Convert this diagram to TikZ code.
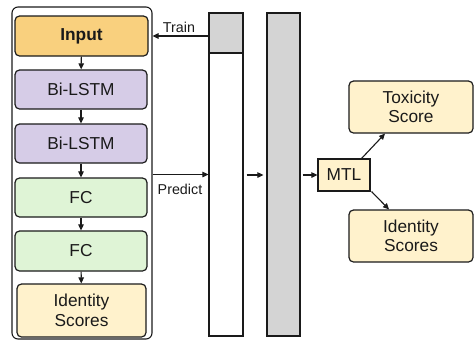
\documentclass[tikz,border=0pt]{standalone}
\usepackage{fontspec}
\setmainfont{Liberation Sans}
\usetikzlibrary{arrows.meta}
\definecolor{inpfill}{HTML}{F9D07E}
\definecolor{lstmfill}{HTML}{D6CCE7}
\definecolor{fcfill}{HTML}{DFF4D6}
\definecolor{scorefill}{HTML}{FFF2CC}
\definecolor{grayfill}{HTML}{D4D4D4}
\definecolor{ink}{HTML}{1A1A1A}
\tikzset{
  blk/.style={draw=ink, line width=1.2pt, rounded corners=4.5pt, inner sep=0pt,
    align=center, text=ink, font=\fontsize{17.3}{19.5}\selectfont},
  colbox/.style={draw=ink, line width=1.2pt, inner sep=0pt},
  arr/.style={draw=ink, line width=1.1pt, -{Triangle[length=6pt,width=5.5pt]}},
  lbl/.style={text=ink, font=\fontsize{14.3}{16}\selectfont, inner sep=0pt},
}
\begin{document}
\begin{tikzpicture}[x=1pt,y=-1pt]
\useasboundingbox (0,0) rectangle (474,341);
% left container
\node[draw=ink, line width=1.1pt, rounded corners=6pt, minimum width=140pt, minimum height=332pt, inner sep=0pt] (cont) at (82,173) {};
\node[blk, fill=inpfill, minimum width=133pt, minimum height=40pt, font=\fontsize{17.3}{19.5}\selectfont\bfseries] (inp) at (81.5,36) {Input};
\node[blk, fill=lstmfill, minimum width=132pt, minimum height=39pt] (bi1) at (81,89.5) {Bi-LSTM};
\node[blk, fill=lstmfill, minimum width=132pt, minimum height=39pt] (bi2) at (81,143.5) {Bi-LSTM};
\node[blk, fill=fcfill, minimum width=132pt, minimum height=39pt] (fc1) at (81,197.5) {FC};
\node[blk, fill=fcfill, minimum width=132pt, minimum height=40pt] (fc2) at (81,251) {FC};
\node[blk, fill=scorefill, minimum width=129pt, minimum height=53pt] (idl) at (81.5,310.5) {Identity\\Scores};
\draw[arr] (inp) -- (bi1);
\draw[arr] (bi1) -- (bi2);
\draw[arr] (bi2) -- (fc1);
\draw[arr] (fc1) -- (fc2);
\draw[arr] (fc2) -- (idl);
% columns
\node[colbox, fill=white, minimum width=34pt, minimum height=323pt] (col1) at (226,174.5) {};
\node[colbox, fill=grayfill, minimum width=34pt, minimum height=40pt] (coltop) at (226,33) {};
\node[colbox, fill=grayfill, minimum width=33pt, minimum height=323pt] (col2) at (283.5,174.5) {};
% train / predict
\draw[arr] (col1.west |- inp) -- (cont.east |- inp);
\node[lbl] (train) at (179,27) {Train};
\draw[arr] (col1.west -| cont.east) -- (col1.west);
\node[lbl] (pred) at (180,189) {Predict};
% right side
\node[colbox, fill=scorefill, minimum width=52pt, minimum height=32pt, font=\fontsize{17.3}{19.5}\selectfont, text=ink] (mtl) at (344,175) {MTL};
\node[blk, fill=scorefill, minimum width=124pt, minimum height=52pt] (tox) at (411,107) {Toxicity\\Score};
\node[blk, fill=scorefill, minimum width=124pt, minimum height=52pt] (idr) at (411,236) {Identity\\Scores};
\draw[arr, shorten <=3pt, shorten >=3pt] (col1.east |- mtl) -- (col2.west |- mtl);
\draw[arr, shorten <=2pt] (col2.east |- mtl) -- (mtl.west);
\draw[arr] ([xshift=-9pt]mtl.north east) -- ([xshift=-26pt]tox.south);
\draw[arr] ([xshift=1pt]mtl.south east) -- ([xshift=-22pt]idr.north);
\end{tikzpicture}
\end{document}
